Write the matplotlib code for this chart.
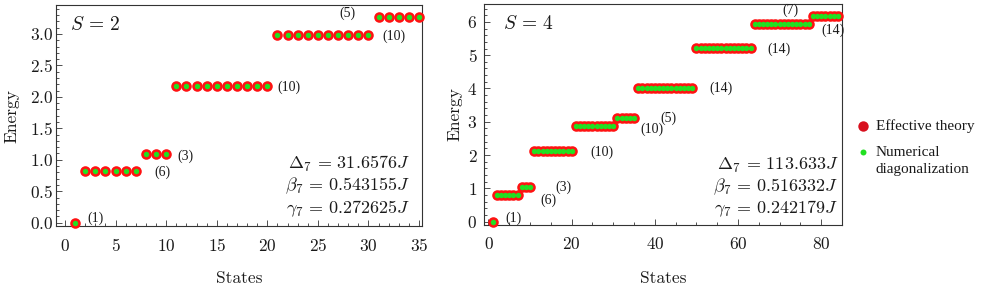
import numpy as np
import matplotlib
matplotlib.use("Agg")
import matplotlib.pyplot as plt
from matplotlib.ticker import MultipleLocator, FuncFormatter
from matplotlib.lines import Line2D

plt.rcParams['mathtext.fontset'] = 'cm'
plt.rcParams['font.family'] = ['DejaVu Serif']

# ---------------- data ----------------
left_counts = [1, 6, 3, 10, 10, 5]
left_levels = [0.0, 0.82, 1.09, 2.17, 2.99, 3.27]
left_deg_labels = ["(1)", "(6)", "(3)", "(10)", "(10)", "(5)"]
left_deg_pos = [(3.0, 0.07), (9.6, 0.80), (11.9, 1.06), (22.1, 2.15), (32.5, 2.96), (27.9, 3.33)]
left_params = [r"$\Delta_7 \,=\, 31.6576J$", r"$\beta_7 \,=\, 0.543155J$", r"$\gamma_7 \,=\, 0.272625J$"]

right_counts = [1, 6, 3, 10, 10, 5, 14, 14, 14, 7]
right_levels = [0.0, 0.79, 1.05, 2.13, 2.87, 3.12, 4.0, 5.23, 5.93, 6.17]
right_deg_labels = ["(1)", "(6)", "(3)", "(10)", "(10)", "(5)", "(14)", "(14)", "(14)", "(7)"]
right_deg_pos = [(5.9, 0.10), (14.3, 0.65), (18.1, 1.02), (27.2, 2.07), (39.3, 2.77),
                 (43.2, 3.12), (56.0, 4.02), (69.8, 5.19), (82.8, 5.76), (72.7, 6.34)]
right_params = [r"$\Delta_7 \,=\, 113.633J$", r"$\beta_7 \,=\, 0.516332J$", r"$\gamma_7 \,=\, 0.242179J$"]

legend_labels = ["Effective theory", "Numerical", "diagonalization"]

RED = '#ff1212'
GREEN = '#22e022'
TXT = '#1a1a1a'

fig = plt.figure(figsize=(9.83, 2.89), dpi=100)
axL = fig.add_axes([0.057, 0.2163, 0.3728, 0.7664])
axR = fig.add_axes([0.4927, 0.2215, 0.3639, 0.765])

CM = 'cmr10'
LAB = 'Liberation Serif'


def draw(ax, counts, levels, deg_labels, deg_pos, params, params_y, params_x, stxt, sx,
         xlim, ylim, xmaj, xmin, ymaj, ymin, yfmt, ylab_x, xlab_y, ytpad):
    energies = np.repeat(levels, counts)
    states = np.arange(1, len(energies) + 1)
    ax.plot(states, energies, 'o', ls='', color=RED, markersize=7.6, markeredgewidth=0,
            zorder=3, clip_on=False)
    ax.plot(states, energies, 'o', ls='', color=GREEN, markersize=3.9, markeredgewidth=0,
            zorder=4, clip_on=False)
    for lab, (x, y) in zip(deg_labels, deg_pos):
        ax.text(x, y, lab, fontsize=10, family=LAB, ha='center', va='center', color=TXT)
    ax.set_xlim(*xlim)
    ax.set_ylim(*ylim)
    ax.xaxis.set_major_locator(MultipleLocator(xmaj))
    ax.xaxis.set_minor_locator(MultipleLocator(xmin))
    ax.yaxis.set_major_locator(MultipleLocator(ymaj))
    ax.yaxis.set_minor_locator(MultipleLocator(ymin))
    ax.xaxis.set_major_formatter(FuncFormatter(lambda v, p: f"${v:.0f}$"))
    ax.yaxis.set_major_formatter(FuncFormatter(lambda v, p: "$" + (yfmt % v) + "$"))
    ax.tick_params(which='both', direction='in', top=False, right=False, width=0.6,
                   labelsize=12.5, colors='#333333', labelcolor=TXT)
    ax.tick_params(axis='y', pad=ytpad)
    ax.tick_params(axis='x', pad=8)
    ax.tick_params(which='major', length=4.5)
    ax.tick_params(which='minor', length=2.5)
    for s in ax.spines.values():
        s.set_linewidth(0.8)
        s.set_color('#333333')
    ax.set_ylabel("Energy", family=CM, fontsize=12.5, color=TXT)
    ax.yaxis.set_label_coords(ylab_x, 0.5)
    ax.set_xlabel("States", family=CM, fontsize=12.5, color=TXT)
    ax.xaxis.set_label_coords(0.5, xlab_y)
    ax.text(sx, 0.91, stxt, transform=ax.transAxes, fontsize=14, va='center', ha='left',
            color=TXT)
    for txt, yb in zip(params, params_y):
        ax.text(params_x, yb, txt, transform=ax.transAxes, fontsize=13, ha='right',
                va='baseline', color=TXT)


draw(axL, left_counts, left_levels, left_deg_labels, left_deg_pos, left_params,
     [0.258, 0.162, 0.060], 0.965, r"$S\,=\,2$", 0.038,
     (-0.89, 35.34), (-0.06, 3.46), 5, 1, 0.5, 0.1, "%.1f", -0.099, -0.20, 2)
draw(axR, right_counts, right_levels, right_deg_labels, right_deg_pos, right_params,
     [0.249, 0.151, 0.053], 0.99, r"$S\,=\,4$", 0.051,
     (-1.0, 85.0), (-0.1, 6.54), 20, 5, 1, 0.2, "%.0f", -0.06, -0.208, 5)

# legend (keys + labels) placed to the right of the panels
legx = 0.8782
fig.add_artist(Line2D([legx], [0.565], marker='o', ls='', color='#d8101e', markersize=7.5,
                      markeredgewidth=0, transform=fig.transFigure))
fig.add_artist(Line2D([legx], [0.475], marker='o', ls='', color=GREEN, markersize=4.3,
                      markeredgewidth=0, transform=fig.transFigure))
for lab, y in zip(legend_labels, [0.565, 0.4706, 0.412]):
    fig.text(0.891, y, lab, family=LAB, fontsize=11, va='center', ha='left', color=TXT)

fig.savefig("out.png", dpi=100)
